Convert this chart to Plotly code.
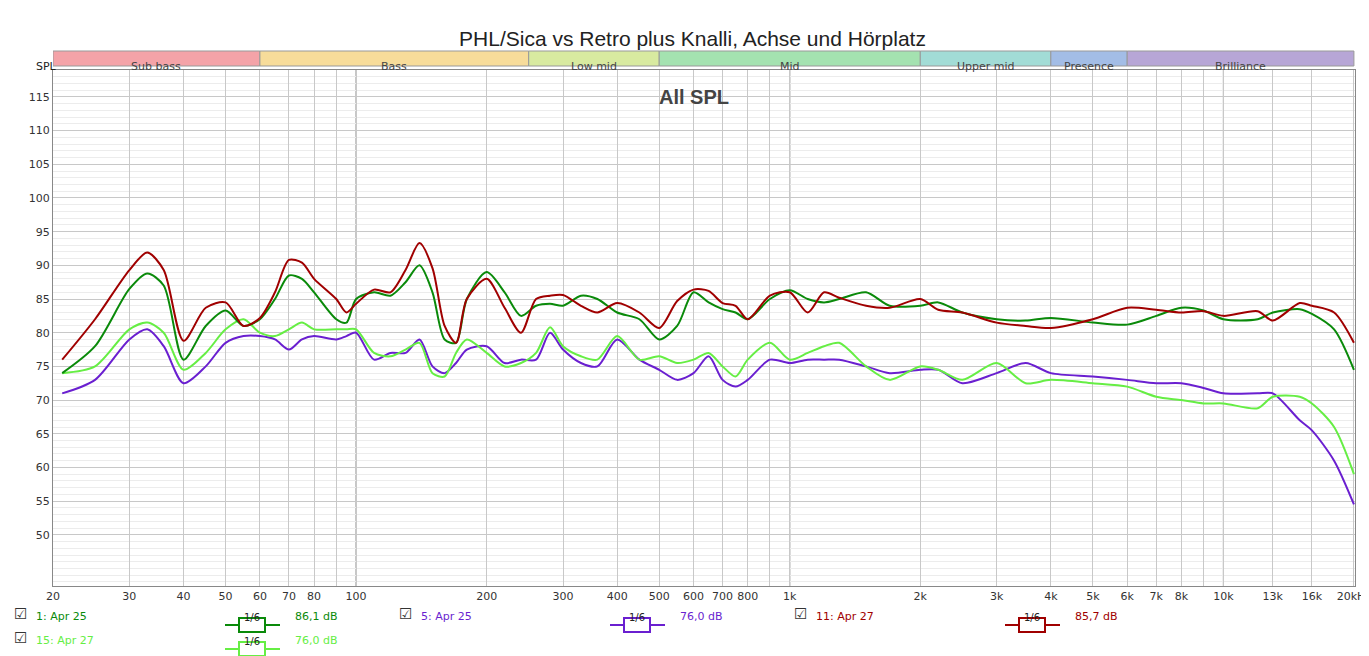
import math
import plotly.graph_objects as go

freq = [21, 25, 30, 33, 36, 40, 45, 50, 55, 60, 65, 70, 75, 80, 90, 95, 100, 110, 120, 130,
        140, 150, 160, 170, 180, 200, 220, 240, 260, 280, 300, 330, 360, 400, 450, 500, 550, 600, 650, 700,
        750, 800, 900, 1000, 1100, 1200, 1300, 1500, 1700, 2000, 2200, 2500, 3000, 3500, 4000, 5000, 6000, 7000, 8000, 9000,
        10000, 12000, 13000, 15000, 16000, 18000, 20000]

spl_apr25_1 = [74, 78, 86.5, 88.8, 87, 76, 81, 83.3, 81, 82, 85, 88.5, 88, 86, 82, 81.5, 85, 86, 85.5, 87.5,
               90, 86, 79, 78.5, 85, 89, 86, 82.5, 84, 84.3, 84, 85.5, 85, 83, 82, 79, 81, 86, 84.5, 83.5,
               83, 82, 85, 86.3, 85, 84.5, 85, 86, 84, 84, 84.5, 83, 82, 81.8, 82.2, 81.5, 81.2, 82.5, 83.7, 83.3,
               82, 82, 83, 83.5, 82.8, 80.5, 74.5]
spl_apr25_5 = [71, 73, 79, 80.5, 78, 72.5, 75, 78.5, 79.5, 79.5, 79, 77.5, 79, 79.5, 79, 79.5, 80, 76, 77, 77,
               79, 75, 74, 75.5, 77.5, 78, 75.5, 76, 76, 80, 77.5, 75.5, 75, 79, 76, 74.5, 73, 74, 76.5, 73,
               72, 73, 76, 75.5, 76, 76, 76, 75, 74, 74.5, 74.5, 72.5, 74, 75.5, 74, 73.5, 73, 72.5, 72.5, 71.8,
               71, 71, 71, 67, 65.5, 61, 54.5]
spl_apr27_11 = [76, 82, 89.3, 91.9, 89.3, 78.8, 83.7, 84.5, 81, 82.2, 86, 90.8, 90.4, 88, 85, 83, 84.3, 86.4, 86, 89.3,
                93.3, 89.6, 81, 78.5, 85, 88, 83.7, 80, 85, 85.5, 85.6, 84, 83, 84.4, 83, 80.7, 84.7, 86.4, 86.2, 84.4,
                84, 82, 85.5, 86, 83, 86, 85.2, 84, 83.7, 85, 83.4, 83, 81.5, 81, 80.7, 82, 83.7, 83.4, 83, 83.2,
                82.5, 83.2, 81.8, 84.4, 84, 83, 78.5]
spl_apr27_15 = [74, 75, 80.5, 81.5, 80, 74.5, 77, 80.5, 82, 80, 79.5, 80.5, 81.5, 80.5, 80.5, 80.5, 80.5, 77, 76.5, 77.5,
                78.5, 74, 73.5, 77, 79, 77, 75, 75.5, 77, 80.8, 78, 76.5, 76, 79.5, 76, 76.5, 75.5, 76, 77, 75,
                73.5, 76, 78.5, 76, 77, 78, 78.5, 75, 73, 75, 74.5, 73, 75.5, 72.5, 73, 72.5, 72, 70.5, 70, 69.5,
                69.5, 68.8, 70.5, 70.5, 69.5, 66, 59]

bands = ["Sub bass", "Bass", "Low mid", "Mid", "Upper mid", "Presence", "Brilliance"]
band_edges = [20, 60, 250, 500, 2000, 4000, 6000, 20000]
band_colors = ["#f4a3a8", "#f7dc9a", "#d8eaa0", "#a4e2b0", "#a2dcd6", "#a3bde6", "#b7a6d6"]

x_labels = {20: "20", 30: "30", 40: "40", 50: "50", 60: "60", 70: "70", 80: "80", 100: "100",
            200: "200", 300: "300", 400: "400", 500: "500", 600: "600", 700: "700", 800: "800",
            1000: "1k", 2000: "2k", 3000: "3k", 4000: "4k", 5000: "5k", 6000: "6k", 7000: "7k",
            8000: "8k", 10000: "10k", 13000: "13k", 16000: "16k", 20000: "20kHz"}

W, H = 1369, 656
L, R, T, B = 45, 22, 62, 78
pw, ph = W - L - R, H - T - B


def px(x):
    return (x - L) / pw


def py(y):
    return (H - B - y) / ph


series = [
    ("1: Apr 25", spl_apr25_1, "#0a8a0a", "86,1 dB"),
    ("5: Apr 25", spl_apr25_5, "#6a1fd0", "76,0 dB"),
    ("11: Apr 27", spl_apr27_11, "#a00000", "85,7 dB"),
    ("15: Apr 27", spl_apr27_15, "#66ee44", "76,0 dB"),
]

fig = go.Figure()
for name, vals, col, _ in [series[1], series[3], series[0], series[2]]:
    fig.add_trace(go.Scatter(x=freq, y=vals, mode="lines", name=name,
                             line=dict(color=col, width=2, shape="spline", smoothing=0.8)))

tickvals = sorted(set([d * 10 ** e for e in range(1, 5) for d in range(1, 10) if 20 <= d * 10 ** e <= 20000] + [13000, 16000]))
ticktext = [x_labels.get(v, "") for v in tickvals]

shapes = []
for v in [100, 1000, 10000]:
    shapes.append(dict(type="line", x0=v, x1=v, y0=0, y1=1, xref="x", yref="paper",
                       line=dict(color="#707070", width=1), layer="below"))
for i, b in enumerate(bands):
    shapes.append(dict(type="rect", x0=band_edges[i], x1=band_edges[i + 1], xref="x", yref="paper",
                       y0=py(58), y1=py(43), fillcolor=band_colors[i], line=dict(color="#999999", width=1)))

annotations = [dict(x=math.log10((band_edges[i] * band_edges[i + 1]) ** 0.5), y=py(50.5), xref="x", yref="paper",
                    text=b, showarrow=False, font=dict(size=11, color="#444444"))
               for i, b in enumerate(bands)]
annotations += [
    dict(x=px(26), y=py(50.5), xref="paper", yref="paper", text="SPL", showarrow=False,
         font=dict(size=11, color="#222222")),
    dict(x=math.log10(600), y=py(76), xref="x", yref="paper", text="<b>All SPL</b>", showarrow=False,
         font=dict(size=20, color="#444444", family="Liberation Sans")),
]

# legend rows
legend_pos = [(12, 617), (397, 617), (792, 617), (12, 641)]
for (name, vals, col, lvl), (lx, ly) in zip(series, legend_pos):
    annotations.append(dict(x=px(lx), y=py(ly), xref="paper", yref="paper", xanchor="center",
                            text="☑", showarrow=False, font=dict(size=15, color="#333333")))
    annotations.append(dict(x=px(lx + 14), y=py(ly), xref="paper", yref="paper", xanchor="left",
                            text=name, showarrow=False, font=dict(size=11, color=col)))
    sx = lx + 205
    shapes.append(dict(type="line", x0=px(sx), x1=px(sx + 55), y0=py(ly), y1=py(ly), xref="paper", yref="paper",
                       line=dict(color=col, width=2)))
    shapes.append(dict(type="rect", x0=px(sx + 14), x1=px(sx + 40), y0=py(ly + 7), y1=py(ly - 7),
                       xref="paper", yref="paper", fillcolor="white", line=dict(color=col, width=2)))
    annotations.append(dict(x=px(sx + 27), y=py(ly), xref="paper", yref="paper", xanchor="center",
                            text="1/6", showarrow=False, font=dict(size=10, color="#222222")))
    annotations.append(dict(x=px(sx + 115), y=py(ly), xref="paper", yref="paper", xanchor="right",
                            text=lvl, showarrow=False, font=dict(size=11, color=col)))

fig.update_layout(
    width=W, height=H,
    margin=dict(l=L, r=R, t=T, b=B, autoexpand=False),
    paper_bgcolor="white", plot_bgcolor="white",
    font=dict(family="DejaVu Sans", size=11, color="#333333"),
    title=dict(text="PHL/Sica vs Retro plus Knalli, Achse und Hörplatz", x=0.5, y=0.965,
               font=dict(size=21, family="Liberation Sans", color="#222222")),
    showlegend=False,
    xaxis=dict(type="log", range=[1.301, 1.3035 + 3], tickvals=tickvals, ticktext=ticktext,
               showgrid=True, gridcolor="#c8c8c8", ticks="", zeroline=False, showline=True, automargin=False,
               linecolor="#888888", mirror=True, tickfont=dict(size=11)),
    yaxis=dict(range=[42.4, 119], tickvals=list(range(50, 120, 5)), showgrid=True, gridcolor="#c8c8c8",
               minor=dict(dtick=1, showgrid=True, gridcolor="#ececec"), ticks="", zeroline=False, automargin=False,
               showline=True, linecolor="#888888", mirror=True, tickfont=dict(size=11)),
    shapes=shapes, annotations=annotations,
)

fig.write_html("out.html")
